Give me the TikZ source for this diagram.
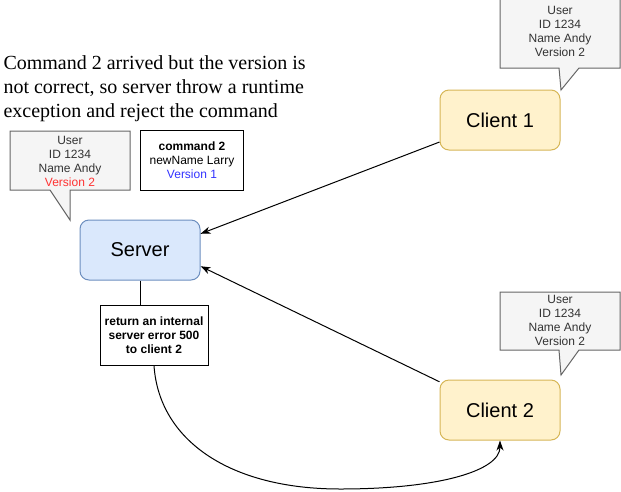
\documentclass[tikz,border=0pt]{standalone}
\usepackage{fontspec}
\setmainfont{Liberation Serif}
\setsansfont{Liberation Sans}
\usetikzlibrary{arrows.meta}

\definecolor{serverfill}{HTML}{DAE8FC}
\definecolor{serverline}{HTML}{6C8EBF}
\definecolor{clientfill}{HTML}{FFF2CC}
\definecolor{clientline}{HTML}{D6B656}
\definecolor{bubblefill}{HTML}{F5F5F5}
\definecolor{bubbleline}{HTML}{666666}
\definecolor{bubbleink}{HTML}{333333}
\definecolor{oldversion}{HTML}{3333FF}
\definecolor{newversion}{HTML}{FF3333}

\tikzset{
    actor/.style={rounded corners=9pt, minimum width=120pt, minimum height=60pt,
        inner sep=0pt, font=\sffamily\fontsize{20}{24}\selectfont},
    serverbox/.style={actor, draw=serverline, fill=serverfill},
    clientbox/.style={actor, draw=clientline, fill=clientfill},
    bubble/.style={draw=bubbleline, fill=bubblefill, line width=1pt},
    bubbletext/.style={align=center, inner sep=0pt, text=bubbleink,
        font=\sffamily\fontsize{12}{14}\selectfont},
    notebox/.style={draw, fill=white, align=center, inner sep=0pt, minimum height=60pt,
        font=\sffamily\fontsize{12}{14}\selectfont},
    msg/.style={-{Stealth[length=10pt,width=7pt,inset=3pt]}, line width=1pt},
}

\begin{document}
\begin{tikzpicture}[x=1pt, y=-1pt, line width=1pt]
    \useasboundingbox (0,0) rectangle (621,491);

    % Server and clients
    \node[serverbox] (server) at (140,250) {Server};
    \node[clientbox] (client1) at (500,120) {Client 1};
    \node[clientbox] (client2) at (500,410) {Client 2};

    % User record bubbles
    \draw[bubble] (500,-2) -- (620,-2) -- (620,68) -- (579,68) -- (561,90) -- (559,68) -- (500,68) -- cycle;
    \node[bubbletext] (user1) at (560,31) {User\\ID 1234\\Name Andy\\Version 2};

    \draw[bubble] (500,292) -- (620,292) -- (620,350) -- (579,350) -- (561,375) -- (559,350) -- (500,350) -- cycle;
    \node[bubbletext] (user2) at (560,320) {User\\ID 1234\\Name Andy\\Version 2};

    \draw[bubble] (10,131) -- (130,131) -- (130,190) -- (70,190) -- (70,220) -- (50,190) -- (10,190) -- cycle;
    \node[bubbletext] (userS) at (70,161) {User\\ID 1234\\Name Andy\\\textcolor{newversion}{Version 2}};

    % Command and reply
    \node[notebox, minimum width=103pt] (cmd) at (192,160)
        {\textbf{command 2}\\newName Larry\\\textcolor{oldversion}{Version 1}};
    \node[notebox, minimum width=108pt, font=\sffamily\bfseries\fontsize{12}{14}\selectfont] (reply) at (154,335)
        {return an internal\\server error 500\\to client 2};

    \node[anchor=north west, align=left, inner sep=0pt, font=\fontsize{20}{24}\selectfont] (story) at (3,55)
        {Command 2 arrived but the version is\\not correct, so server throw a runtime\\exception and reject the command};

    % Connectors
    \draw[msg] (client1.200) -- (server.15);
    \draw[msg] (client2.155) -- (server.-15);
    \draw (server.south) -- (server.south |- reply.north);
    \draw[msg] (reply.south) .. controls +(5,75) and +(-110,0) .. (340,489)
        .. controls +(100,0) and +(0,30) .. (client2.south);
\end{tikzpicture}
\end{document}
